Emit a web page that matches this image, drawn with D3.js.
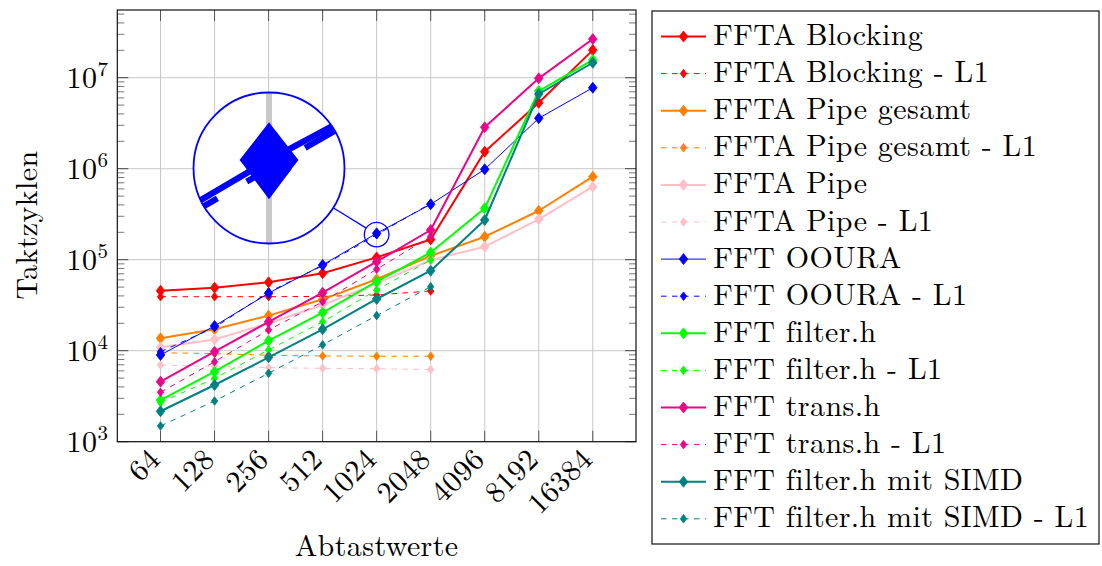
<!DOCTYPE html>
<html><head><meta charset="utf-8">
<script src="https://cdn.jsdelivr.net/npm/d3@7"></script>
<style>
body{margin:0;background:#fff}
svg{display:block}
</style>
</head><body>
<svg id="c" width="1102" height="566"></svg>
<script>
// ---- data ----
const samples = [64,128,256,512,1024,2048,4096,8192,16384];
const yTickValues = [1e3,1e4,1e5,1e6,1e7];
const yTickExponents = ["3","4","5","6","7"];
const xLabel = "Abtastwerte";
const yLabel = "Taktzyklen";

const fftaBlocking     = [45600,49200,56500,71000,106000,167000,1540000,5310000,20100000];
const fftaBlockingL1   = [39200,39200,39200,39500,41000,45300];
const fftaPipeGesamt   = [13700,17200,24300,36700,61000,110000,179000,345000,817000];
const fftaPipeGesamtL1 = [9500,9300,8900,8750,8700,8700];
const fftaPipe         = [10900,13300,20000,31800,55000,99000,139000,278000,634000];
const fftaPipeL1       = [6970,6700,6500,6400,6350,6200];
const fftOoura         = [8970,18700,42800,87500,195000,406000,984000,3580000,7760000];
const fftOouraL1       = [9750,18000,44000,86000,188000,415000];
const fftFilter        = [2870,5880,12900,26200,57300,120000,367000,7140000,15700000];
const fftFilterL1      = [2700,4970,10200,20800,46400,99300];
const fftTrans         = [4560,9750,20800,43400,95000,212000,2850000,9840000,26600000];
const fftTransL1       = [3490,7570,16900,34500,78500,180000];
const fftSimd          = [2160,4200,8450,17200,37000,75700,273000,6620000,14600000];
const fftSimdL1        = [1490,2800,5650,11600,24300,50500];

const seriesNames = ["FFTA Blocking","FFTA Blocking - L1","FFTA Pipe gesamt","FFTA Pipe gesamt - L1",
  "FFTA Pipe","FFTA Pipe - L1","FFT OOURA","FFT OOURA - L1","FFT filter.h","FFT filter.h - L1",
  "FFT trans.h","FFT trans.h - L1","FFT filter.h mit SIMD","FFT filter.h mit SIMD - L1"];
const seriesValues = [fftaBlocking,fftaBlockingL1,fftaPipeGesamt,fftaPipeGesamtL1,fftaPipe,fftaPipeL1,
  fftOoura,fftOouraL1,fftFilter,fftFilterL1,fftTrans,fftTransL1,fftSimd,fftSimdL1];
const seriesColors = ["#ff0000","#ff0000","#ff8000","#ff8000","#ffbfc6","#ffbfc6","#0000ff","#0000ff",
  "#00ff00","#00ff00","#e8068c","#e8068c","#008080","#008080"];
const seriesDashed = [false,true,false,true,false,true,false,true,false,true,false,true,false,true];
const seriesThin   = [false,true,false,true,false,true,true,true,false,true,false,true,false,true];

// ---- font detection (serif preferred) ----
const ctx = document.createElement("canvas").getContext("2d");
function width(font, s){ ctx.font = font; return ctx.measureText(s).width; }
function available(f){
  const s = "FFTA Blocking mit SIMD 1024 Abtastwerte";
  return width("30px monospace", s) !== width(`30px '${f}', monospace`, s) ||
         width("30px sans-serif", s) !== width(`30px '${f}', sans-serif`, s);
}
const candidates = ["Latin Modern Roman","CMU Serif","Liberation Serif","Tinos","Times New Roman",
  "DejaVu Serif","Noto Serif","FreeSerif","Nimbus Roman","Nimbus Roman No9 L","Times","Georgia"];
const chosen = candidates.find(available);
const FONT = chosen ? `'${chosen}', serif` : "serif";
const FS = 30;
const longest = seriesNames[13];
const baseW = width(`${FS}px ${FONT}`, longest);
const LS = Math.max(-1, Math.min(3, (375 - baseW) / longest.length));

// ---- layout ----
const L=117.3, R=636, T=10, B=441.7;
const svg = d3.select("#c");
const x = d3.scaleLog().base(2).domain([64/Math.pow(2,0.8), 16384*Math.pow(2,0.8)]).range([L,R]);
const y = d3.scaleLog().domain([1e3, Math.pow(10,7.744)]).range([B,T]);

const series = seriesNames.map((n,i)=>({name:n, values:seriesValues[i], color:seriesColors[i],
  dashed:seriesDashed[i], thin:seriesThin[i]}));

function diamond(small){
  const w = small?3.2:4.3, h = small?4.3:5.5;
  return `M0,${-h}L${w},0L0,${h}L${-w},0Z`;
}

function drawContent(g){
  g.append("g").selectAll("line").data(samples).join("line")
    .attr("x1",d=>x(d)).attr("x2",d=>x(d)).attr("y1",T).attr("y2",B)
    .attr("stroke","#c8c8c8").attr("stroke-width",1);
  g.append("g").selectAll("line").data(yTickValues).join("line")
    .attr("y1",d=>y(d)).attr("y2",d=>y(d)).attr("x1",L).attr("x2",R)
    .attr("stroke","#c8c8c8").attr("stroke-width",1);
  const line = d3.line().x((d,i)=>x(samples[i])).y(d=>y(d));
  series.forEach(s=>{
    const sg = g.append("g");
    sg.append("path").attr("d",line(s.values)).attr("fill","none")
      .attr("stroke",s.color).attr("stroke-width",s.thin?1:2)
      .attr("stroke-dasharray",s.dashed?"5.5,5.5":null)
      .attr("stroke-linejoin","round");
    sg.selectAll("path.m").data(s.values).join("path").attr("class","m")
      .attr("transform",(d,i)=>`translate(${x(samples[i])},${y(d)})`)
      .attr("d",diamond(s.dashed)).attr("fill",s.color).attr("stroke",s.color).attr("stroke-width",0.8);
  });
}

drawContent(svg.append("g"));

// ticks
const tg = svg.append("g");
const minor=[];
for(let k=3;k<=7;k++) for(let m=2;m<=9;m++){ const v=m*Math.pow(10,k); if(v<y.domain()[1]) minor.push(v); }
function hticks(data,x1,x2,col){
  tg.append("g").selectAll("line").data(data).join("line").attr("x1",x1).attr("x2",x2)
    .attr("y1",d=>y(d)).attr("y2",d=>y(d)).attr("stroke",col).attr("stroke-width",1);
}
hticks(minor,L,L+7,"#777");
hticks(minor,R,R-7,"#777");
hticks(yTickValues,L,L+11,"#444");
hticks(yTickValues,R,R-11,"#444");
tg.append("g").selectAll("line").data(samples).join("line").attr("x1",d=>x(d)).attr("x2",d=>x(d))
  .attr("y1",B).attr("y2",B-11).attr("stroke","#555").attr("stroke-width",1);
tg.append("g").selectAll("line").data(samples).join("line").attr("x1",d=>x(d)).attr("x2",d=>x(d))
  .attr("y1",T).attr("y2",T+11).attr("stroke","#555").attr("stroke-width",1);

svg.append("rect").attr("x",L).attr("y",T).attr("width",R-L).attr("height",B-T)
  .attr("fill","none").attr("stroke","#111").attr("stroke-width",1.2);

function txt(sel,size){
  return sel.attr("font-family",FONT).style("font-family",FONT).style("font-size",size+"px")
    .style("letter-spacing",LS+"px").attr("fill","#000");
}

// y tick labels
const yl = txt(svg.append("g").selectAll("text").data(yTickValues).join("text")
  .attr("x",L-9).attr("y",d=>y(d)+10).attr("text-anchor","end"),FS);
yl.append("tspan").text("10");
yl.append("tspan").text((d,i)=>yTickExponents[i]).attr("dy",-12).style("font-size","21px");

// x tick labels
txt(svg.append("g").selectAll("text").data(samples).join("text")
  .attr("transform",d=>`translate(${x(d)+1.5},461) rotate(-45)`)
  .attr("text-anchor","end"),FS).text(d=>d);

txt(svg.append("text").attr("x",(L+R)/2).attr("y",556).attr("text-anchor","middle"),FS).text(xLabel);
txt(svg.append("text").attr("transform","translate(37,225) rotate(-90)").attr("text-anchor","middle"),FS).text(yLabel);

// spy (magnified inset)
const sx = x(1024), sy = y(fftOoura[4]) + 1.3;
const bx = 269, by = 168, br = 75.5, mag = 6.13, sr = br/mag;
svg.append("defs").append("clipPath").attr("id","spyclip")
  .append("circle").attr("cx",sx).attr("cy",sy).attr("r",sr);
const ang = Math.atan2(sy-by, sx-bx);
svg.append("line").attr("x1",bx+br*Math.cos(ang)).attr("y1",by+br*Math.sin(ang))
  .attr("x2",sx-sr*Math.cos(ang)).attr("y2",sy-sr*Math.sin(ang)).attr("stroke","#0000ff").attr("stroke-width",1.2);
svg.append("circle").attr("cx",sx).attr("cy",sy).attr("r",sr).attr("fill","none")
  .attr("stroke","#0000ff").attr("stroke-width",1.3);
svg.append("circle").attr("cx",bx).attr("cy",by).attr("r",br).attr("fill","#fff");
const spy = svg.append("g").attr("transform",`translate(${bx},${by}) scale(${mag}) translate(${-sx},${-sy})`)
  .append("g").attr("clip-path","url(#spyclip)");
drawContent(spy);
svg.append("circle").attr("cx",bx).attr("cy",by).attr("r",br).attr("fill","none")
  .attr("stroke","#0000ff").attr("stroke-width",1.8);

// legend
const lg = svg.append("g");
lg.append("rect").attr("x",652).attr("y",11).attr("width",447).attr("height",533)
  .attr("fill","#fff").attr("stroke","#111").attr("stroke-width",1.2);
series.forEach((s,i)=>{
  const ly = 36.5 + i*37.1;
  lg.append("line").attr("x1",661).attr("x2",706).attr("y1",ly).attr("y2",ly)
    .attr("stroke",s.color).attr("stroke-width",s.thin?1:2)
    .attr("stroke-dasharray",s.dashed?"5.5,5.5":null);
  lg.append("path").attr("transform",`translate(683.5,${ly})`).attr("d",diamond(s.dashed))
    .attr("fill",s.color).attr("stroke",s.color).attr("stroke-width",0.8);
  txt(lg.append("text").attr("x",713.3).attr("y",ly+8.5),FS).text(s.name);
});
</script>
</body></html>
